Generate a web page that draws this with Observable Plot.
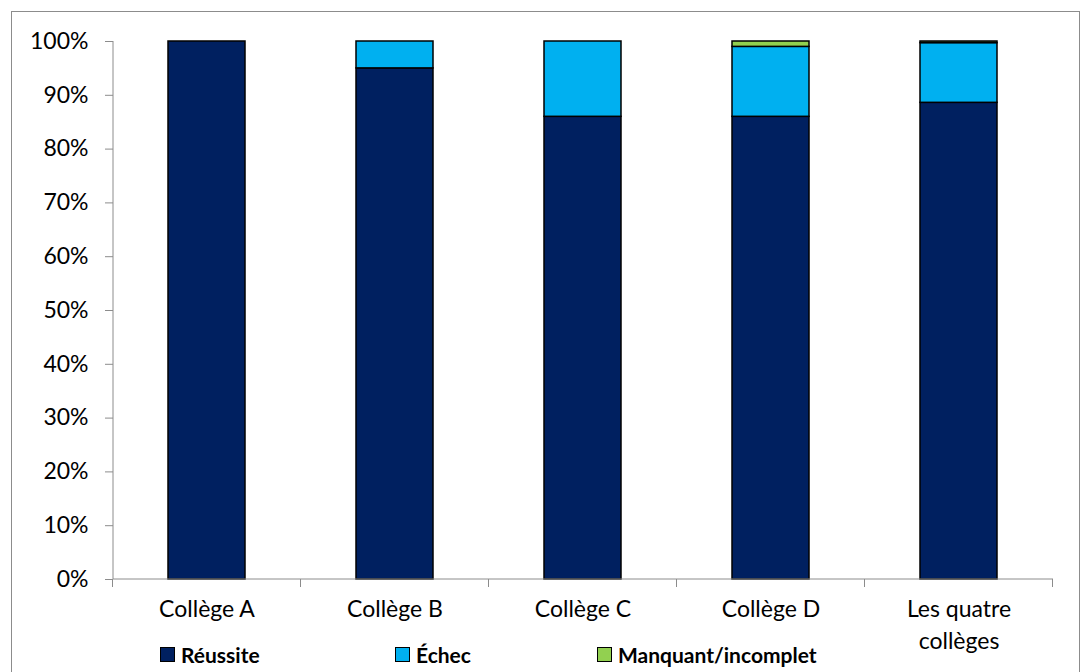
<!DOCTYPE html>
<html>
<head>
<meta charset="utf-8">
<script src="https://cdn.jsdelivr.net/npm/d3@7"></script>
<script src="https://cdn.jsdelivr.net/npm/@observablehq/plot@0.6"></script>
<style>
  html, body { margin: 0; padding: 0; background: #fff; }
  #wrap { position: relative; width: 1092px; height: 672px; overflow: hidden; font-family: Lato, "Open Sans", sans-serif; }
  #border { position: absolute; left: 11px; top: 11px; width: 1069px; height: 700px; border: 1px solid #8c8c8c; box-sizing: border-box; pointer-events: none; }
  #chart { position: absolute; left: 0; top: 0; }
  #legend { position: absolute; top: 641px; left: 0; width: 1092px; height: 26px; font-weight: bold; font-size: 21px; color: #000; }
  .item { position: absolute; top: 0; display: flex; align-items: center; white-space: nowrap; height: 26px; }
  .sw { width: 15px; height: 15px; border: 1px solid #000; margin-right: 6px; box-sizing: border-box; }
</style>
</head>
<body>
<div id="wrap">
  <div id="chart"></div>
  <div id="legend"></div>
  <div id="border"></div>
</div>
<script>
const categories = ["Collège A", "Collège B", "Collège C", "Collège D", "Les quatre collèges"];
const categoryLabels = ["Collège A", "Collège B", "Collège C", "Collège D", "Les quatre\ncollèges"];
const seriesNames = ["Réussite", "Échec", "Manquant/incomplet"];
const seriesColors = ["#002060", "#00b0f0", "#92d050"];
const reussite = [100, 95, 86, 86, 88.6];
const echec = [0, 5, 14, 13, 11.1];
const manquant = [0, 0, 0, 1, 0.3];
const yTicks = [0, 10, 20, 30, 40, 50, 60, 70, 80, 90, 100];

const seriesValues = [reussite, echec, manquant];
const rows = [];
seriesNames.forEach((s, si) => {
  categories.forEach((c, ci) => {
    const v = seriesValues[si][ci];
    if (v > 0) rows.push({college: c, serie: s, value: v});
  });
});
const labelOf = new Map(categories.map((c, i) => [c, categoryLabels[i]]));

function axisLines(index, scales, values, dims) {
  const sx = scales.x;
  const step = typeof sx.step === "function" ? sx.step() : sx.step;
  const bw = typeof sx.bandwidth === "function" ? sx.bandwidth() : sx.bandwidth;
  const off = (step - bw) / 2;
  const y0 = dims.height - dims.marginBottom;
  const x0 = dims.marginLeft;
  const x1 = dims.width - dims.marginRight;
  const g = d3.create("svg:g").attr("stroke", "#8c8c8c").attr("stroke-width", 1).attr("fill", "none");
  g.append("line").attr("x1", x0).attr("x2", x0).attr("y1", dims.marginTop).attr("y2", y0);
  g.append("line").attr("x1", x0).attr("x2", x1).attr("y1", y0).attr("y2", y0);
  const bounds = [sx(categories[0]) - off, ...categories.map(c => sx(c) + bw + off)];
  for (const b of bounds) {
    g.append("line").attr("x1", b).attr("x2", b).attr("y1", y0).attr("y2", y0 + 8);
  }
  return g.node();
}

const chart = Plot.plot({
  width: 1092,
  height: 672,
  marginLeft: 113,
  marginRight: 39,
  marginTop: 41,
  marginBottom: 93,
  style: {fontFamily: 'Lato, "Open Sans", sans-serif', fontSize: "23px", color: "#000", background: "transparent"},
  x: {domain: categories, paddingInner: 0.59, paddingOuter: 0.295, label: null},
  y: {domain: [0, 100], label: null},
  color: {domain: seriesNames, range: seriesColors},
  marks: [
    Plot.barY(rows, Plot.stackY({x: "college", y: "value", fill: "serie", stroke: "#000", strokeWidth: 1.5, order: null})),
    Plot.axisY({ticks: yTicks, tickFormat: d => d + "%", tickSize: 8, tickPadding: 17, stroke: "#8c8c8c", fill: "#000", fontSize: 23, label: null}),
    Plot.axisX({tickSize: 0, tickPadding: 15, tickFormat: d => labelOf.get(d), lineHeight: 1.39, fill: "#000", fontSize: 23, label: null}),
    axisLines
  ]
});
document.getElementById("chart").appendChild(chart);

const legendPos = [160, 395, 597];
const legend = document.getElementById("legend");
seriesNames.forEach((s, i) => {
  const it = document.createElement("div");
  it.className = "item";
  it.style.left = legendPos[i] + "px";
  const sw = document.createElement("span");
  sw.className = "sw";
  sw.style.background = seriesColors[i];
  const t = document.createElement("span");
  t.textContent = s;
  it.appendChild(sw);
  it.appendChild(t);
  legend.appendChild(it);
});
</script>
</body>
</html>
